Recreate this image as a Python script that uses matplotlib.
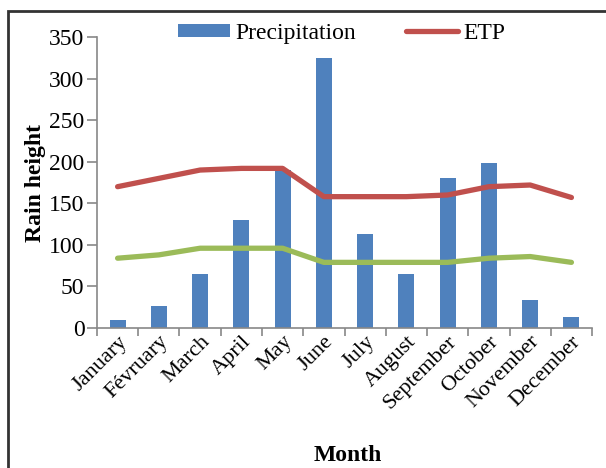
import numpy as np
import matplotlib
matplotlib.use("Agg")
import matplotlib.pyplot as plt
from matplotlib.patches import Rectangle

plt.rcParams['font.family'] = ['Liberation Serif', 'DejaVu Serif']

# --- data ---
months = ['January', 'Févruary', 'March', 'April', 'May', 'June', 'July',
          'August', 'September', 'October', 'November', 'December']
precipitation = [10, 27, 65, 130, 190, 325, 113, 65, 180, 198, 34, 13]
etp = [170, 180, 190, 192, 192, 158, 158, 158, 160, 170, 172, 157]
etp_half = [84, 88, 96, 96, 96, 79, 79, 79, 79, 84, 86, 79]

fig = plt.figure(figsize=(6.06, 4.68), dpi=100)
ax = fig.add_axes([0.160, 0.299, 0.817, 0.622])

x = np.arange(len(months))
ax.bar(x, precipitation, width=0.39, color='#4f81bd', label='Precipitation', zorder=2)
ax.plot(x, etp, color='#c0504d', lw=3.8, label='ETP', zorder=3, solid_capstyle='round')
ax.plot(x, etp_half, color='#9bbb59', lw=3.8, zorder=3, solid_capstyle='round')

ax.set_xlim(-0.5, len(months) - 0.5)
ax.set_ylim(0, 350)
ax.set_yticks(range(0, 351, 50))
# category boundaries carry the tick marks, month names sit between them
ax.set_xticks(np.arange(-0.5, len(months), 1))
ax.set_xticklabels([])
ax.set_xticks(x, minor=True)
ax.set_xticklabels(months, minor=True, rotation=45, ha='right', va='top',
                   rotation_mode='anchor', fontsize=16)
ax.tick_params(axis='x', which='minor', length=0, pad=3)
ax.tick_params(axis='x', which='major', length=6, direction='out', color='#888888', width=1.2)
ax.tick_params(axis='y', length=7, direction='out', color='#888888', width=1.2,
               labelsize=17, pad=2)

for side in ['top', 'right']:
    ax.spines[side].set_visible(False)
for side in ['left', 'bottom']:
    ax.spines[side].set_color('#888888')
    ax.spines[side].set_linewidth(1.2)

ax.set_ylabel('Rain height', fontsize=17, fontweight='bold', labelpad=2)
fig.text(0.574, 0.015, 'Month', fontsize=17, fontweight='bold', ha='center')

handles, labels = ax.get_legend_handles_labels()
order = [labels.index('Precipitation'), labels.index('ETP')]
ax.legend([handles[i] for i in order], [labels[i] for i in order],
          loc='center', bbox_to_anchor=(0.494, 1.013), ncol=2, frameon=False,
          fontsize=17, handlelength=2.2, handleheight=0.45, handletextpad=0.25,
          columnspacing=2.1, borderaxespad=0)

# outer frame
fig.patches.append(Rectangle((0.0125, -0.02), 1.02, 0.997, transform=fig.transFigure,
                             fill=False, edgecolor='#333333', lw=2))

fig.savefig('out.png', dpi=100)
